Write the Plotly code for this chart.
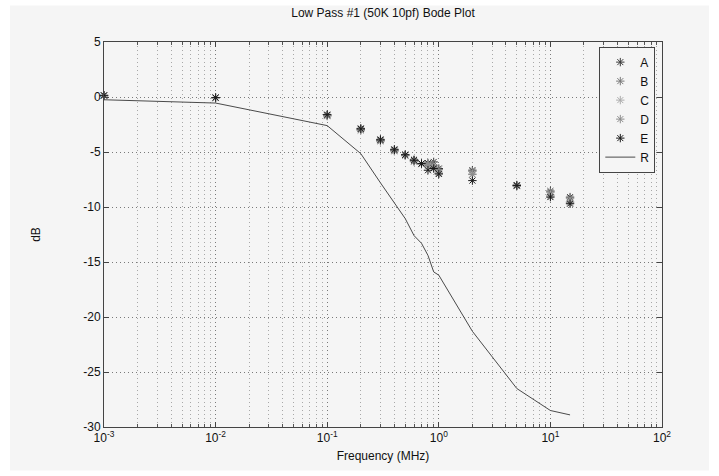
import plotly.graph_objects as go

# ---- data ----
freq_pts = [0.001, 0.01, 0.1, 0.2, 0.3, 0.4, 0.5, 0.6, 0.7, 0.8, 0.9, 1, 2, 5, 10, 15]
series_A = [0.15, -0.05, -1.65, -2.85, -3.85, -4.75, -5.25, -5.70, -6.05, -6.00, -5.90, -6.50, -6.65, -8.00, -8.55, -9.10]
series_B = [0.10, -0.10, -1.70, -2.95, -3.95, -4.85, -5.30, -5.80, -6.05, -6.10, -6.20, -6.60, -6.75, -8.05, -8.65, -9.20]
series_C = [0.10, -0.10, -1.75, -3.05, -4.05, -4.95, -5.35, -5.90, -6.10, -6.30, -6.45, -6.90, -7.00, -8.10, -8.90, -9.50]
series_D = [0.10, -0.05, -1.70, -3.00, -4.00, -4.90, -5.30, -5.85, -6.10, -6.20, -6.40, -6.95, -7.05, -8.10, -9.00, -9.60]
series_E = [0.15, -0.05, -1.60, -2.90, -3.90, -4.80, -5.25, -5.75, -6.05, -6.66, -6.50, -7.00, -7.60, -8.05, -9.10, -9.70]

freq_ref = [0.001, 0.01, 0.1, 0.2, 0.3, 0.4, 0.5, 0.6, 0.7, 0.8, 0.9, 1, 2, 5, 10, 15]
series_R = [-0.25, -0.55, -2.6, -5.15, -7.8, -9.6, -11.05, -12.6, -13.3, -14.4, -15.9, -16.2, -21.3, -26.5, -28.5, -28.9]

x_tickvals = [1e-3, 1e-2, 1e-1, 1, 10, 100]
x_ticktext = ["10<sup>-3</sup>", "10<sup>-2</sup>", "10<sup>-1</sup>", "10<sup>0</sup>", "10<sup>1</sup>", "10<sup>2</sup>"]
y_tickvals = [5, 0, -5, -10, -15, -20, -25, -30]
y_ticktext = ["5", "0", "-5", "-10", "-15", "-20", "-25", "-30"]

names = ["A", "B", "C", "D", "E"]
values = [series_A, series_B, series_C, series_D, series_E]
colors = ["#3a3a3a", "#7a7a7a", "#acacac", "#8c8c8c", "#1a1a1a"]

FONT = "Liberation Sans, Arial, sans-serif"
BG = "#f5f5f5"

fig = go.Figure()
for n, v, c in zip(names, values, colors):
    fig.add_trace(go.Scatter(
        x=freq_pts, y=v, name=n, mode="markers", cliponaxis=False,
        marker=dict(symbol="asterisk-open", size=7, color=c, line=dict(color=c, width=1)),
    ))
fig.add_trace(go.Scatter(
    x=freq_ref, y=series_R, name="R", mode="lines",
    line=dict(color="#4a4a4a", width=1),
))

minor_x = [m * 10.0 ** e for e in range(-3, 2) for m in range(2, 10)]

fig.update_layout(
    width=719, height=476,
    margin=dict(l=104, r=57, t=41.5, b=48.5),
    paper_bgcolor="white", plot_bgcolor=BG,
    font=dict(family=FONT, size=11, color="#111111"),
    title=dict(text="Low Pass #1 (50K 10pf) Bode Plot", x=0.5, xref="paper",
               xanchor="center", y=1 - 13 / 476, yanchor="middle",
               font=dict(family=FONT, size=12, color="#111111")),
    showlegend=True,
    legend=dict(x=0.988, y=0.988, xanchor="right", yanchor="top",
                bgcolor=BG, bordercolor="#444444", borderwidth=1,
                font=dict(family=FONT, size=12, color="#111111"),
                tracegroupgap=0, itemwidth=30),
    shapes=[dict(type="rect", xref="paper", yref="paper",
                 x0=(10 - 104) / 558, x1=(709 - 104) / 558,
                 y0=(427.5 - 471) / 386, y1=(427.5 - 5) / 386,
                 fillcolor=BG, line=dict(width=0), layer="below")],
)

fig.update_xaxes(
    type="log", range=[-3, 2],
    tickvals=x_tickvals, ticktext=x_ticktext,
    ticks="inside", ticklen=5, tickcolor="#444444",
    showline=True, linecolor="#444444", linewidth=1, mirror="ticks",
    showgrid=True, gridcolor="#7a7a7a", griddash="1px,3px", gridwidth=1,
    zeroline=False,
    tickfont=dict(family=FONT, size=12, color="#111111"),
    title=dict(text="Frequency (MHz)", font=dict(family=FONT, size=12, color="#111111"), standoff=7),
    minor=dict(tickmode="array", tickvals=minor_x, ticks="inside", ticklen=3,
               tickcolor="#555555", showgrid=True, gridcolor="#a8a8a8", griddash="1px,3px", gridwidth=1),
)
fig.update_yaxes(
    range=[-30, 5],
    tickvals=y_tickvals, ticktext=y_ticktext,
    ticks="inside", ticklen=5, tickcolor="#444444",
    showline=True, linecolor="#444444", linewidth=1, mirror="ticks",
    showgrid=True, gridcolor="#7a7a7a", griddash="1px,3px", gridwidth=1,
    zeroline=False,
    tickfont=dict(family=FONT, size=12, color="#111111"),
    title=dict(text="dB", font=dict(family=FONT, size=12, color="#111111"), standoff=40),
)

fig.write_html("out.html")
